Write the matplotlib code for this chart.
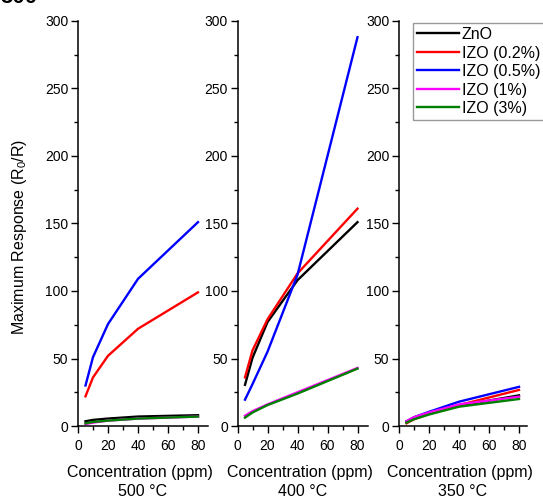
import matplotlib
matplotlib.use("Agg")
import matplotlib.pyplot as plt
from matplotlib.ticker import MultipleLocator

plt.rcParams['font.family'] = ['Liberation Sans', 'DejaVu Sans']
plt.rcParams['mathtext.fontset'] = 'custom'
plt.rcParams['mathtext.rm'] = 'Liberation Sans'
plt.rcParams['mathtext.it'] = 'Liberation Sans:italic'

conc = [5, 10, 20, 40, 80]
series_names = ["ZnO", "IZO (0.2%)", "IZO (0.5%)", "IZO (1%)", "IZO (3%)"]
colors = ["#000000", "#ff0000", "#0000ff", "#ff00ff", "#007f00"]
temps = ["500 \u00b0C", "400 \u00b0C", "350 \u00b0C"]

# 500 C
zno_500 = [3.5, 4.5, 5.5, 7.0, 8.0]
izo02_500 = [22, 36, 52, 72, 99]
izo05_500 = [30, 51, 75.5, 109, 151]
izo1_500 = [1.5, 2.5, 4.0, 5.5, 7.0]
izo3_500 = [2.0, 3.0, 4.0, 5.5, 7.0]

# 400 C
zno_400 = [30.5, 50.5, 77, 108, 151]
izo02_400 = [36, 56, 79, 113, 161]
izo05_400 = [19.5, 31, 55, 112, 288]
izo1_400 = [7.6, 11, 16, 25, 43]
izo3_400 = [6.2, 10, 15.5, 24, 42.5]

# 350 C
zno_350 = [3.0, 6.0, 9.5, 15, 22.7]
izo02_350 = [2.0, 5.0, 9.0, 15.5, 26.7]
izo05_350 = [3.5, 6.5, 10.5, 18, 29]
izo1_350 = [3.5, 6.5, 10.0, 16, 21.7]
izo3_350 = [2.5, 5.0, 8.5, 14.3, 20]

panels = [
    [zno_500, izo02_500, izo05_500, izo1_500, izo3_500],
    [zno_400, izo02_400, izo05_400, izo1_400, izo3_400],
    [zno_350, izo02_350, izo05_350, izo1_350, izo3_350],
]

W, H = 543, 499
fig = plt.figure(figsize=(W / 100, H / 100), dpi=100)

lefts = [78, 237.5, 399]
widths = [130, 130.5, 128]
top_px, bot_px = 21, 426
axes = []
for i, (l, w) in enumerate(zip(lefts, widths)):
    ax = fig.add_axes([l / W, (H - bot_px) / H, w / W, (bot_px - top_px) / H])
    axes.append(ax)
    handles = []
    for vals, name, c in zip(panels[i], series_names, colors):
        h, = ax.plot(conc, vals, color=c, lw=1.7, label=name)
        handles.append(h)
    ax.set_xlim(0, w / 1.5)
    ax.set_ylim(0, 300)
    ax.xaxis.set_major_locator(MultipleLocator(20))
    ax.xaxis.set_minor_locator(MultipleLocator(10))
    ax.yaxis.set_major_locator(MultipleLocator(50))
    ax.yaxis.set_minor_locator(MultipleLocator(25))
    for s in ['top', 'right']:
        ax.spines[s].set_visible(False)
    for s in ['left', 'bottom']:
        ax.spines[s].set_linewidth(1.1)
    ax.tick_params(which='major', direction='out', length=5, width=1, labelsize=10, pad=2)
    ax.tick_params(which='minor', direction='out', length=3, width=1)
    ax.tick_params(axis='x', pad=4)
    cx = (l + w / 2) / W
    fig.text(cx - 0.005, 1 - 473 / H, "Concentration (ppm)", ha='center', va='center', fontsize=11.5)
    fig.text(cx, 1 - 492 / H, temps[i], ha='center', va='center', fontsize=11.5)

fig.text(20 / W, 1 - 237 / H, "Maximum Response (R$_0$/R)", rotation=90,
         ha='center', va='center', fontsize=11.5)

leg = fig.legend(handles, series_names, loc='upper left',
                 bbox_to_anchor=(413 / W, 1 - 23 / H), fontsize=11.5,
                 handlelength=2.6, handletextpad=0.2, labelspacing=0.22,
                 borderpad=0.25, borderaxespad=0, frameon=True, fancybox=False)
leg.get_frame().set_edgecolor('#808080')
leg.get_frame().set_linewidth(1.0)

fig.text(0.0, 1 - 3 / H, "500", fontsize=16, fontweight='bold', ha='left', va='baseline')

fig.savefig("out.png", dpi=100)
